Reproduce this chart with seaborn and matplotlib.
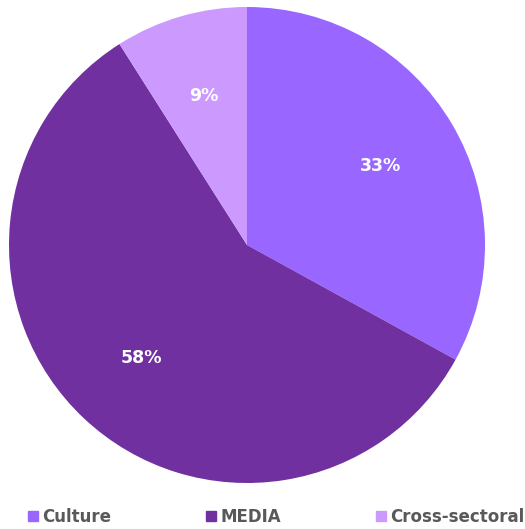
import matplotlib
matplotlib.use("Agg")
import matplotlib.pyplot as plt
import seaborn as sns
from matplotlib.lines import Line2D

categories = ["Culture", "MEDIA", "Cross-sectoral"]
values = [33, 58, 9]
colors = ["#9966FF", "#7030A0", "#CC99FF"]

sns.set_style("white")
plt.rcParams["font.family"] = ["DejaVu Sans"]

fig = plt.figure(figsize=(5.25, 5.29), dpi=100)
ax = fig.add_axes([9/525, 46/529, 476/525, 476/529])
palette = sns.color_palette(colors)
wedges, texts, autotexts = ax.pie(
    values, colors=palette, startangle=90, counterclock=False,
    autopct=lambda p: f"{p:.0f}%", pctdistance=0.65, radius=1,
    wedgeprops=dict(linewidth=0),
    textprops=dict(color="white", fontsize=12.5, fontweight="bold"))
ax.set_xlim(-1, 1)
ax.set_ylim(-1, 1)
ax.set_aspect("equal")
ax.axis("off")

handles = [Line2D([0], [0], marker="s", linestyle="", markersize=7,
                  markerfacecolor=c, markeredgecolor=c) for c in colors]
fig.legend(handles, categories, loc="center", bbox_to_anchor=(0.527, 12/529),
           ncol=3, frameon=False, handlelength=0.5, handletextpad=0.3,
           columnspacing=5.75, prop=dict(size=12, weight="bold"),
           labelcolor="#595959")

fig.savefig("out.png", dpi=100)
